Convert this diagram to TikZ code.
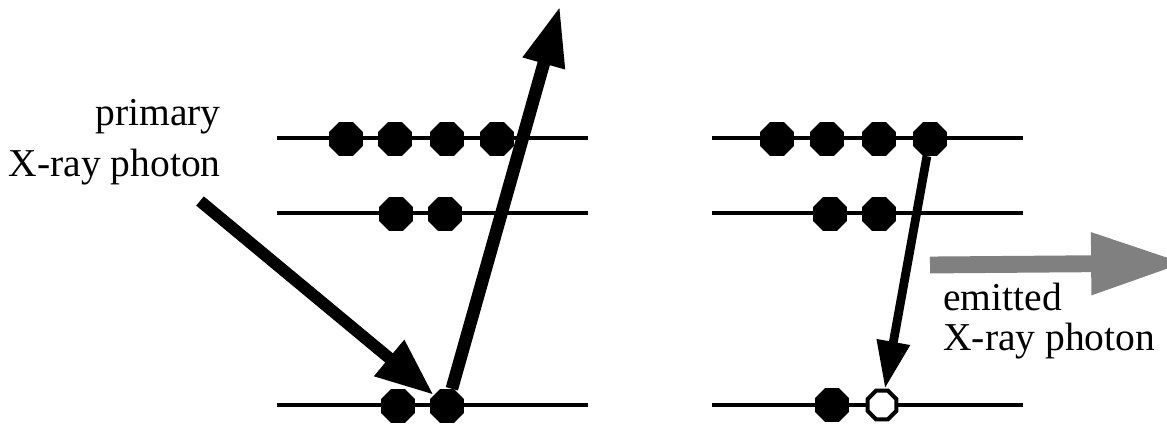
\documentclass[tikz,border=0pt]{standalone}
\usepackage{fontspec}
\setmainfont{Liberation Serif}
\usetikzlibrary{arrows.meta,shapes.geometric,positioning}
\definecolor{emitgray}{RGB}{128,128,128}

\begin{document}
\begin{tikzpicture}[
  x=0.02cm,y=-0.02cm,
  line cap=butt,line join=miter,
  >=Triangle
]
  \tikzset{
    level/.style={line width=2.3pt},
    el/.style={regular polygon,regular polygon sides=8,fill=black,inner sep=0pt,minimum size=0.73cm},
    hole/.style={regular polygon,regular polygon sides=8,draw=black,fill=white,line width=2.3pt,inner sep=0pt,minimum size=0.62cm},
    photon/.style={line width=6.8pt,-{Triangle[length=33pt,width=25pt]}},
    ejected/.style={line width=7.2pt,-{Triangle[length=34pt,width=23pt]}},
    jump/.style={line width=5pt,-{Triangle[length=27pt,width=18pt]}},
    emit/.style={draw=emitgray,line width=9.6pt,-{Triangle[length=54pt,width=33pt]}},
    lbl/.style={inner sep=0pt}
  }
  \useasboundingbox (0,0) rectangle (1167,425);

  % Energy levels
  \foreach \y in {138,213,405} {
    \draw[level] (277,\y) -- (588,\y);
    \draw[level] (712,\y) -- (1023,\y);
  }

  % Left atom: electrons
  \node[el] (lu1) at (346,139) {};
  \node[el] (lu2) at (395,139) {};
  \node[el] (lu3) at (447,139) {};
  \node[el] (lu4) at (497,139) {};
  \node[el] (lm1) at (396,214) {};
  \node[el] (lm2) at (445,214) {};
  \node[el] (lk1) at (398,406) {};
  \node[el] (lk2) at (447,406) {};

  % Right atom: electrons and vacancy
  \node[el] (ru1) at (777,139) {};
  \node[el] (ru2) at (827,139) {};
  \node[el] (ru3) at (879,139) {};
  \node[el] (ru4) at (930,139) {};
  \node[el] (rm1) at (830,214) {};
  \node[el] (rm2) at (879,214) {};
  \node[el] (rk1) at (832,405) {};
  \node[hole] (rk2) at (882,405) {};

  % Incoming photon and ejected electron
  \coordinate (src) at (200,201);
  \coordinate (out) at (560,6);
  \draw[photon] (src) -- (lk2);
  \draw[ejected] (lk2) -- (out);

  % Electron falls into the vacancy
  \draw[jump] (ru4) -- (rk2);

  % Emitted photon
  \coordinate (g0) at (930,265);
  \coordinate (g1) at (1186,263);
  \draw[emit] (g0) -- (g1);

  % Labels
  \node[lbl,align=right,anchor=east,font=\fontsize{22.5}{29}\selectfont] (prim) at (221,142) {primary\\X-ray photon};
  \node[lbl,align=left,anchor=west,font=\fontsize{22.5}{23}\selectfont] (emt) at (943,321) {emitted\\X-ray photon};
\end{tikzpicture}
\end{document}
